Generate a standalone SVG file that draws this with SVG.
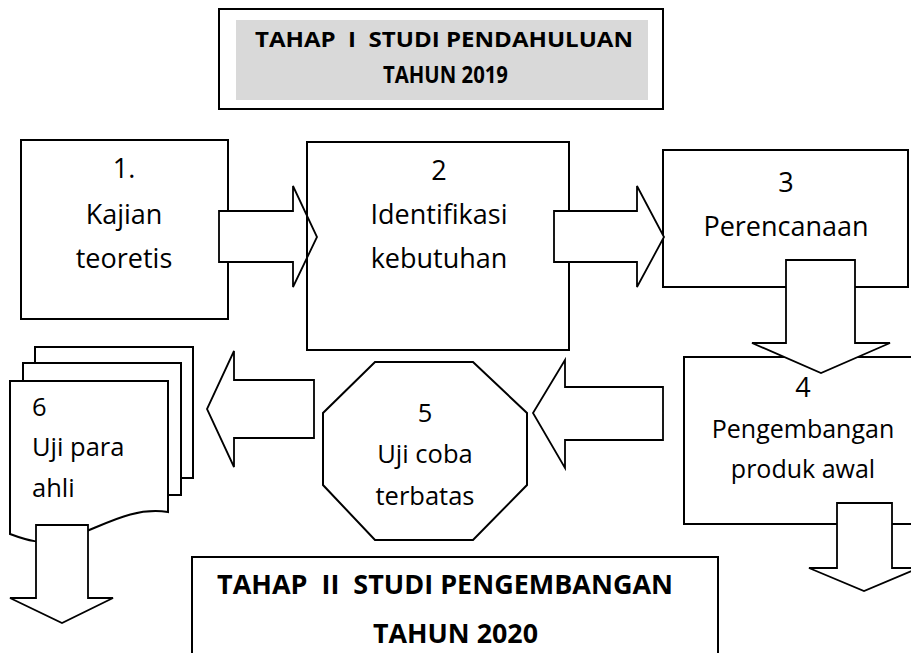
<svg xmlns="http://www.w3.org/2000/svg" width="911" height="653" viewBox="0 0 911 653">
<style>
.box{fill:#fff;stroke:#000;stroke-width:2}
.open{fill:none;stroke:#000;stroke-width:2}
.arr{fill:#fff;stroke:#000;stroke-width:1.8;stroke-linejoin:miter}
.t{font-family:"Open Sans","Liberation Sans",sans-serif;font-size:27px;fill:#000;white-space:pre}
.s{font-size:25.5px}
.c{text-anchor:middle}
.h{font-family:"Open Sans","Liberation Sans",sans-serif;font-weight:bold;fill:#000;white-space:pre}
</style>
<rect width="911" height="653" fill="#fff"/>
<g id="title1">
<rect class="box" x="219" y="9" width="444" height="100"/>
<rect x="236" y="20" width="412" height="80" fill="#d9d9d9"/>
<text class="h" x="255" y="47" font-size="22" textLength="378" lengthAdjust="spacingAndGlyphs">TAHAP  I  STUDI PENDAHULUAN</text>
<text class="h" x="383" y="83" font-size="23" textLength="125" lengthAdjust="spacingAndGlyphs">TAHUN 2019</text>
</g>
<g id="node1">
<rect class="box" x="21" y="140" width="207" height="179"/>
<text class="t c" x="124" y="178">1.</text>
<text class="t c" x="124" y="224">Kajian</text>
<text class="t c" x="124" y="268">teoretis</text>
</g>
<g id="node3">
<rect class="box" x="663" y="150" width="245" height="137"/>
<text class="t c" x="786" y="192">3</text>
<text class="t c" x="786" y="236">Perencanaan</text>
</g>
<g id="node4">
<rect class="box" x="684" y="357" width="240" height="167"/>
<text class="t c" x="803" y="397">4</text>
<text class="t c" x="803" y="438" style="font-size:25px">Pengembangan</text>
<text class="t c" x="803" y="478" style="font-size:25px">produk awal</text>
</g>
<g id="node5">
<polygon class="box" points="375,362 473,362 527,413 527,485 473,540 375,540 323,485 323,413"/>
<text class="t s c" x="425" y="422">5</text>
<text class="t s c" x="425" y="463">Uji coba</text>
<text class="t s c" x="425" y="505">terbatas</text>
</g>
<g id="node6">
<rect class="box" x="35" y="347" width="158" height="131"/>
<rect class="box" x="23" y="363" width="158" height="132"/>
<path class="box" d="M10,381 H168 V512 C128,506 98,530 62,540 C42,545 26,540 10,534 Z"/>
<text class="t s" x="32" y="416">6</text>
<text class="t s" x="32" y="456">Uji para</text>
<text class="t s" x="32" y="497">ahli</text>
</g>
<g id="title2">
<rect class="box" x="192" y="557" width="526" height="110"/>
<text class="h" x="217" y="594" font-size="27" textLength="456" lengthAdjust="spacingAndGlyphs">TAHAP  II  STUDI PENGEMBANGAN</text>
<text class="h" x="373" y="643" font-size="27" textLength="165" lengthAdjust="spacingAndGlyphs">TAHUN 2020</text>
</g>
<g id="node2">
<rect class="open" x="307" y="142" width="262" height="208"/>
<text class="t c" x="439" y="180">2</text>
<text class="t c" x="439" y="224">Identifikasi</text>
<text class="t c" x="439" y="268">kebutuhan</text>
</g>
<g id="connectors">
<rect x="220" y="212" width="72" height="49" fill="#fff"/>
<polygon class="arr" style="fill:none" points="219,211 293,211 293,186 317,237 293,287 293,262 219,262"/>
<polygon class="arr" points="554,211 637,211 637,186 664,237 637,287 637,262 554,262"/>
<polygon class="arr" points="786,260 855,260 855,343 890,343 821,373 752,343 786,343"/>
<polygon class="arr" points="837,503 892,503 892,568 919,568 864,591 809,568 837,568"/>
<polygon class="arr" points="663,387 565,387 565,360 533,413 565,468 565,440 663,440"/>
<polygon class="arr" points="314,380 234,380 234,351 207,409 234,467 234,438 314,438"/>
<polygon class="arr" points="36,525 88,525 88,598 113,598 62,623 10,598 36,598"/>
</g>
</svg>
